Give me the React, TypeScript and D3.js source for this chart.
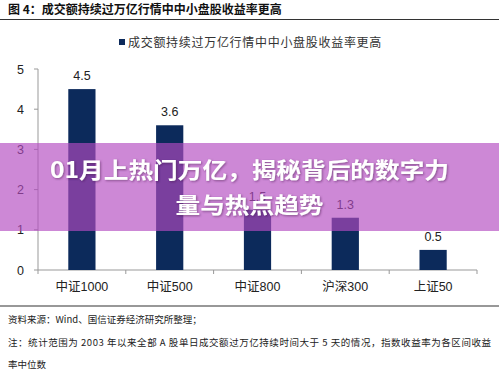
import React from 'react';
import * as d3 from 'd3';

const categories = ['中证1000', '中证500', '中证800', '沪深300', '上证50'];
const values = [4.5, 3.6, 1.5, 1.3, 0.5];
const yTicks = [0, 1, 2, 3, 4, 5];

const chartTitle = '图 4：成交额持续过万亿行情中中小盘股收益率更高';
const legendLabel = '成交额持续过万亿行情中中小盘股收益率更高';
const sourceNote = '资料来源：Wind、国信证券经济研究所整理；';
const noteLines = [
  '注：统计范围为 2003 年以来全部 A 股单日成交额过万亿持续时间大于 5 天的情况，指数收益率为各区间收益',
  '率中位数',
];
const overlayLines = ['01月上热门万亿，揭秘背后的数字力', '量与热点趋势'];
const overlayWidths = [399, 148];

const W = 499;
const H = 374;
const NAVY = '#0c2a5b';
const SONG = '"Noto Sans CJK SC", "Liberation Serif", serif';
const SANS = '"Liberation Sans", "Noto Sans CJK SC", Arial, sans-serif';

export default function App() {
  const x = d3
    .scaleBand<string>()
    .domain(categories)
    .range([38, 477])
    .paddingInner(0.69)
    .paddingOuter(0.345);
  const y = d3.scaleLinear().domain([0, 5]).range([270, 69]);
  const step = x.step();
  const boundaries = d3.range(categories.length + 1).map((i) => 38 + i * step);

  return (
    <svg
      width={W}
      height={H}
      style={{ position: 'absolute', left: 0, top: 0, display: 'block', background: '#fff' }}
    >
      <defs>
        <filter id="shadow" x="-10%" y="-30%" width="120%" height="160%">
          <feDropShadow dx="1" dy="1" stdDeviation="1" floodColor="#3a1040" floodOpacity="0.5" />
        </filter>
      </defs>

      {/* header */}
      <text x={8} y={14} fontFamily={SONG} fontWeight="bold" fontSize={12} fill="#111">
        {chartTitle}
      </text>
      <line x1={0} x2={W} y1={19.5} y2={19.5} stroke="#333" strokeWidth={1.2} />

      {/* legend */}
      <rect x={119} y={39} width={6} height={6} fill={NAVY} />
      <text x={128} y={46.5} fontFamily={SONG} fontSize={12} letterSpacing={0.7} fill="#333">
        {legendLabel}
      </text>

      {/* y axis */}
      <line x1={38} x2={38} y1={y(5)} y2={y(0)} stroke="#999" />
      {yTicks.map((t) => (
        <g key={t}>
          <line x1={34} x2={38} y1={y(t)} y2={y(t)} stroke="#999" />
          <text x={24} y={y(t) + 4.5} textAnchor="end" fontFamily={SANS} fontSize={12.5} fill="#222">
            {t}
          </text>
        </g>
      ))}

      {/* x axis */}
      <line x1={38} x2={477} y1={y(0)} y2={y(0)} stroke="#999" />
      {boundaries.map((b, i) => (
        <line key={i} x1={b} x2={b} y1={y(0)} y2={y(0) + 4} stroke="#999" />
      ))}

      {/* bars */}
      {categories.map((c, i) => (
        <g key={c}>
          <rect x={x(c)} y={y(values[i])} width={x.bandwidth()} height={y(0) - y(values[i])} fill={NAVY} />
          <text
            x={(x(c) as number) + x.bandwidth() / 2}
            y={y(values[i]) - 9}
            textAnchor="middle"
            fontFamily={SANS}
            fontSize={12.5}
            fill="#222"
          >
            {values[i]}
          </text>
          <text
            x={(x(c) as number) + x.bandwidth() / 2}
            y={291}
            textAnchor="middle"
            fontFamily={SANS}
            fontSize={12.5}
            fill="#222"
          >
            {c}
          </text>
        </g>
      ))}

      {/* footer */}
      <line x1={0} x2={W} y1={306} y2={306} stroke="#333" strokeWidth={1.2} />
      <text x={8} y={323} fontFamily={SONG} fontSize={9.5} fill="#222">
        {sourceNote}
      </text>
      <text x={8} y={346} fontFamily={SONG} fontSize={9.5} fill="#222" textLength={483} lengthAdjust="spacing">
        {noteLines[0]}
      </text>
      <text x={8} y={368} fontFamily={SONG} fontSize={9.5} fill="#222">
        {noteLines[1]}
      </text>

      {/* overlay band */}
      <rect x={0} y={143} width={W} height={88} fill="rgb(179,74,193)" fillOpacity={0.66} />
      {overlayLines.map((l, i) => (
        <text
          key={i}
          x={W / 2 - overlayWidths[i] / 2}
          y={178 + i * 35}
          fontFamily='"Noto Sans CJK SC", sans-serif'
          fontWeight="bold"
          fontSize={22}
          fill="#fff"
          textLength={overlayWidths[i]}
          lengthAdjust="spacingAndGlyphs"
          filter="url(#shadow)"
        >
          {l}
        </text>
      ))}
    </svg>
  );
}
